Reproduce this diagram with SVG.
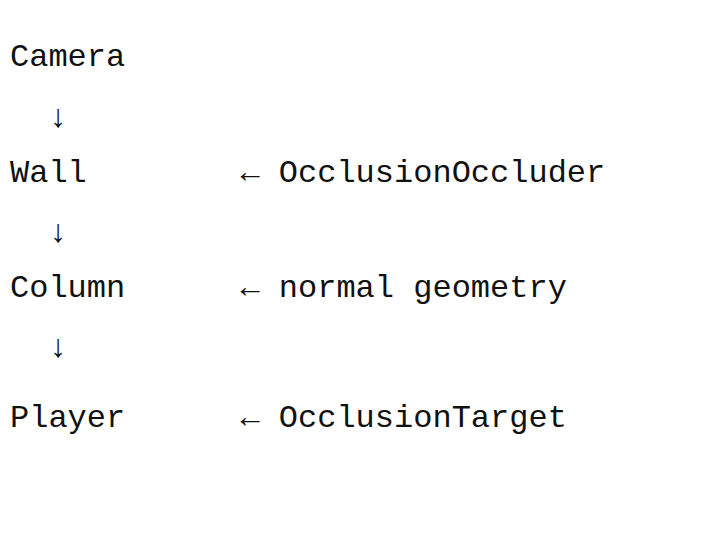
<svg xmlns="http://www.w3.org/2000/svg" width="720" height="540" viewBox="0 0 720 540">
<style>
text{font-family:"Nimbus Mono PS","Courier New","Liberation Mono",monospace;font-size:32px;fill:#111}
</style>
<rect width="720" height="540" fill="#fff"/>
<g id="camera"><text x="10" y="66">Camera</text></g>
<g id="wall"><text x="10" y="182">Wall</text></g>
<g id="column"><text x="10" y="297">Column</text></g>
<g id="player"><text x="10" y="427">Player</text></g>
<g id="connectors">
<text x="48.4" y="127">↓</text>
<text x="48.4" y="242">↓</text>
<text x="48.4" y="357">↓</text>
<text x="240.4" y="182">←</text>
<text x="240.4" y="297">←</text>
<text x="240.4" y="427">←</text>
</g>
<g id="occluder"><text x="278.8" y="182">OcclusionOccluder</text></g>
<g id="normal"><text x="278.8" y="297">normal geometry</text></g>
<g id="target"><text x="278.8" y="427">OcclusionTarget</text></g>
</svg>
